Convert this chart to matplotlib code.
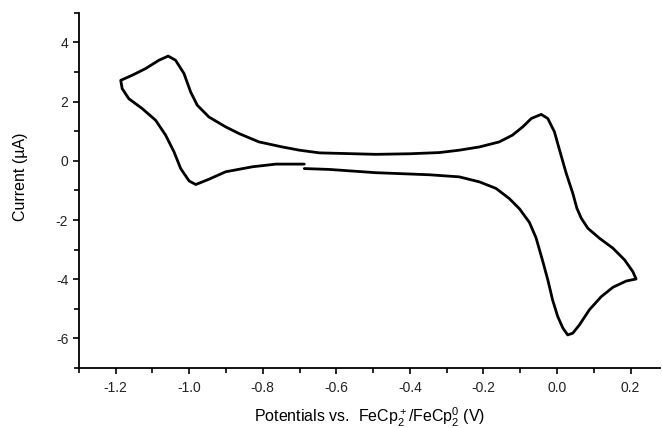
import matplotlib
matplotlib.use("Agg")
import matplotlib.pyplot as plt
from matplotlib.ticker import MultipleLocator

# potential (V vs Fc+/Fc) and current (uA), traced in scan order
potential = [-0.687, -0.619, -0.492, -0.347, -0.266, -0.211, -0.166, -0.130, -0.102,
             -0.075, -0.057, -0.039, -0.025, -0.012, 0.002, 0.016, 0.029, 0.043,
             0.061, 0.088, 0.120, 0.152, 0.188, 0.215,
             0.206, 0.184, 0.152, 0.116, 0.084, 0.066, 0.054, 0.043, 0.025, 0.007,
             -0.007, -0.025, -0.043, -0.070, -0.093, -0.121, -0.157, -0.211, -0.266,
             -0.320, -0.400, -0.492, -0.646, -0.700, -0.747, -0.810, -0.864, -0.901,
             -0.946, -0.978, -0.996, -1.014, -1.037, -1.057, -1.082, -1.118, -1.155,
             -1.186,
             -1.182, -1.164, -1.128, -1.091, -1.064, -1.041, -1.023, -1.000, -0.982,
             -0.946, -0.901, -0.828, -0.764, -0.687]
current = [-0.26, -0.29, -0.40, -0.47, -0.54, -0.71, -0.93, -1.27, -1.62,
           -2.08, -2.60, -3.38, -4.02, -4.70, -5.26, -5.65, -5.88, -5.82,
           -5.54, -5.03, -4.59, -4.27, -4.06, -3.99,
           -3.74, -3.35, -2.95, -2.62, -2.28, -1.94, -1.60, -1.10, -0.42, 0.36,
           0.98, 1.43, 1.57, 1.43, 1.15, 0.87, 0.64, 0.47, 0.36,
           0.28, 0.24, 0.22, 0.27, 0.36, 0.47, 0.64, 0.92, 1.15,
           1.48, 1.88, 2.33, 2.95, 3.40, 3.54, 3.40, 3.12, 2.89,
           2.72,
           2.44, 2.10, 1.77, 1.37, 0.87, 0.30, -0.26, -0.68, -0.80,
           -0.62, -0.37, -0.20, -0.11, -0.11]

x_ticks = [-1.2, -1.0, -0.8, -0.6, -0.4, -0.2, 0.0, 0.2]
y_ticks = [-6, -4, -2, 0, 2, 4]

plt.rcParams["font.family"] = ["Liberation Sans", "DejaVu Sans"]
plt.rcParams["mathtext.fontset"] = "custom"
plt.rcParams["mathtext.rm"] = "Liberation Sans"
plt.rcParams["mathtext.it"] = "Liberation Sans"
plt.rcParams["axes.unicode_minus"] = False

fig = plt.figure(figsize=(6.62, 4.28), dpi=100)
ax = fig.add_axes([0.119, 0.140, 0.878, 0.830])

ax.plot(potential, current, "-", color="black", lw=2.0,
        solid_joinstyle="round", solid_capstyle="round")

ax.set_xlim(-1.3, 0.28)
ax.set_ylim(-7, 5)
ax.set_xticks(x_ticks)
ax.set_xticklabels([f"{t:.1f}" for t in x_ticks])
ax.set_yticks(y_ticks)
ax.xaxis.set_minor_locator(MultipleLocator(0.1))
ax.yaxis.set_minor_locator(MultipleLocator(1))

for s in ("top", "right"):
    ax.spines[s].set_visible(False)
for s in ("left", "bottom"):
    ax.spines[s].set_linewidth(1.3)

ax.tick_params(which="major", direction="out", length=4, width=1.2,
               labelsize=10, labelcolor="#222222")
ax.tick_params(which="minor", direction="out", length=3.5, width=1.2)
ax.tick_params(axis="x", pad=5.5)

ax.set_xlabel(r"Potentials vs.  FeCp$_2^+$/FeCp$_2^0$ (V)", fontsize=11.5)
ax.xaxis.label.set_verticalalignment("baseline")
ax.xaxis.set_label_coords(0.5, -0.152)
ax.set_ylabel("Current (µA)", fontsize=11.5)
ax.yaxis.label.set_verticalalignment("center")
ax.yaxis.set_label_coords(-0.100, 0.538)

fig.savefig("out.png", dpi=100)
